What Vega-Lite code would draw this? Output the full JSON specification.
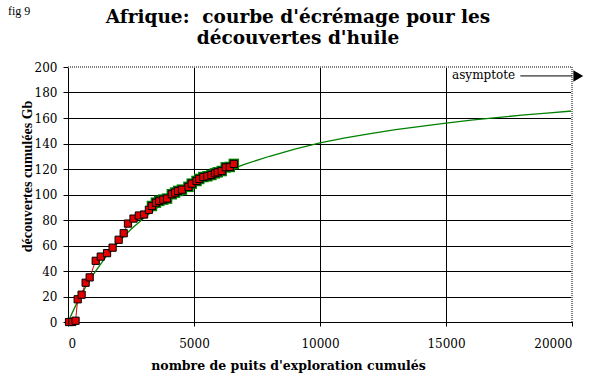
{
  "$schema": "https://vega.github.io/schema/vega-lite/v6.json",
  "width": 504,
  "height": 255,
  "autosize": {"type": "none"},
  "padding": {"left": 68, "top": 67, "right": 24, "bottom": 59},
  "background": "white",
  "title": {
    "text": ["Afrique:\u00a0 courbe d'écrémage pour les", "découvertes d'huile"],
    "font": "DejaVu Serif",
    "fontSize": 18.5,
    "fontWeight": "bold",
    "color": "black",
    "lineHeight": 21,
    "offset": -43,
    "dx": -22,
    "anchor": "middle",
    "frame": "group"
  },
  "config": {
    "view": {"stroke": null},
    "axis": {
      "labelFont": "DejaVu Serif",
      "labelFontSize": 12,
      "labelColor": "black",
      "labelOverlap": false,
      "titleFont": "DejaVu Serif",
      "titleFontWeight": "bold",
      "titleColor": "black",
      "domainColor": "black",
      "tickColor": "black",
      "gridColor": "black",
      "gridOpacity": 1,
      "gridWidth": 1
    }
  },
  "datasets": {
    "obs": [
      {"puits": 40, "gb": 0},
      {"puits": 170, "gb": 0},
      {"puits": 300, "gb": 1},
      {"puits": 385, "gb": 17.8},
      {"puits": 540, "gb": 21.4},
      {"puits": 700, "gb": 30.8},
      {"puits": 860, "gb": 35},
      {"puits": 1100, "gb": 48},
      {"puits": 1300, "gb": 51.3},
      {"puits": 1550, "gb": 54},
      {"puits": 1770, "gb": 58.3},
      {"puits": 2010, "gb": 64.5},
      {"puits": 2210, "gb": 69.6},
      {"puits": 2380, "gb": 77.2},
      {"puits": 2600, "gb": 81.1},
      {"puits": 2810, "gb": 83.5},
      {"puits": 3020, "gb": 84.3},
      {"puits": 3210, "gb": 88},
      {"puits": 3330, "gb": 91},
      {"puits": 3490, "gb": 93.6},
      {"puits": 3620, "gb": 95},
      {"puits": 3780, "gb": 96},
      {"puits": 3930, "gb": 96.8},
      {"puits": 4120, "gb": 100.2},
      {"puits": 4250, "gb": 101.5},
      {"puits": 4370, "gb": 102.8},
      {"puits": 4520, "gb": 103.8},
      {"puits": 4780, "gb": 106},
      {"puits": 4910, "gb": 108.5},
      {"puits": 5100, "gb": 110.6},
      {"puits": 5210, "gb": 112.2},
      {"puits": 5370, "gb": 113.7},
      {"puits": 5530, "gb": 114.3},
      {"puits": 5690, "gb": 115.3},
      {"puits": 5830, "gb": 116.6},
      {"puits": 5940, "gb": 117.4},
      {"puits": 6100, "gb": 118.4},
      {"puits": 6260, "gb": 121.3},
      {"puits": 6420, "gb": 121.6},
      {"puits": 6580, "gb": 124}
    ],
    "fit": [
      {"puits": 0, "gb": 0},
      {"puits": 250, "gb": 10.7},
      {"puits": 500, "gb": 20.4},
      {"puits": 750, "gb": 29.2},
      {"puits": 1000, "gb": 37.2},
      {"puits": 1500, "gb": 51},
      {"puits": 2000, "gb": 62.7},
      {"puits": 2500, "gb": 72.7},
      {"puits": 3000, "gb": 81.3},
      {"puits": 3500, "gb": 89},
      {"puits": 4000, "gb": 95.7},
      {"puits": 4500, "gb": 101.7},
      {"puits": 5000, "gb": 107},
      {"puits": 6000, "gb": 116.2},
      {"puits": 7000, "gb": 123.7},
      {"puits": 8000, "gb": 130},
      {"puits": 9000, "gb": 135.6},
      {"puits": 10000, "gb": 140.5},
      {"puits": 11000, "gb": 144.4},
      {"puits": 12000, "gb": 147.8},
      {"puits": 13000, "gb": 150.8},
      {"puits": 14000, "gb": 153.5},
      {"puits": 15000, "gb": 156},
      {"puits": 16000, "gb": 158.3},
      {"puits": 17000, "gb": 160.3},
      {"puits": 18000, "gb": 162.2},
      {"puits": 19000, "gb": 163.9},
      {"puits": 20000, "gb": 165.5}
    ],
    "border": [
      {"x1": 0, "x2": 20000, "y1": 200, "y2": 200},
      {"x1": 20000, "x2": 20000, "y1": 0, "y2": 200}
    ],
    "annot": [
      {"label": "asymptote", "x": 15240, "x2": 20000, "xs": 17950, "xa": 20250, "y": 193}
    ],
    "fig": [
      {"label": "fig 9", "x": -2380, "y": 241}
    ]
  },
  "layer": [
    {
      "data": {"name": "fit"},
      "mark": {"type": "line", "color": "#008000", "strokeWidth": 1.3},
      "encoding": {
        "x": {
          "field": "puits", "type": "quantitative",
          "scale": {"domain": [0, 20000], "nice": false},
          "axis": {
            "values": [0, 5000, 10000, 15000, 20000],
            "tickCount": 5,
            "format": "d",
            "title": "nombre de puits d'exploration cumulés",
            "titleFontSize": 12.5,
            "titleX": 220,
            "titleY": 47,
            "titleAlign": "center",
            "titleBaseline": "alphabetic",
            "tickSize": 4,
            "labelPadding": 12,
            "grid": true
          }
        },
        "y": {
          "field": "gb", "type": "quantitative",
          "scale": {"domain": [0, 200], "nice": false},
          "axis": {
            "values": [0, 20, 40, 60, 80, 100, 120, 140, 160, 180, 200],
            "tickCount": 11,
            "labelOverlap": false,
            "title": "découvertes cumulées Gb",
            "titleFont": "Liberation Serif",
            "titleFontSize": 14,
            "titleAngle": -90,
            "titleX": -41,
            "titleY": 109,
            "titleAlign": "center",
            "titleBaseline": "middle",
            "tickSize": 5,
            "labelPadding": 6,
            "grid": true
          }
        }
      }
    },
    {
      "data": {"name": "border"},
      "mark": {"type": "rule", "color": "white", "strokeWidth": 2, "clip": false},
      "encoding": {
        "x": {"field": "x1", "type": "quantitative"},
        "x2": {"field": "x2"},
        "y": {"field": "y1", "type": "quantitative"},
        "y2": {"field": "y2"}
      }
    },
    {
      "data": {"name": "border"},
      "mark": {"type": "rule", "color": "black", "strokeWidth": 1, "strokeDash": [1, 1], "clip": false},
      "encoding": {
        "x": {"field": "x1", "type": "quantitative"},
        "x2": {"field": "x2"},
        "y": {"field": "y1", "type": "quantitative"},
        "y2": {"field": "y2"}
      }
    },
    {
      "data": {"name": "obs"},
      "mark": {"type": "line", "color": "#e00000", "strokeWidth": 1},
      "encoding": {
        "x": {"field": "puits", "type": "quantitative"},
        "y": {"field": "gb", "type": "quantitative"}
      }
    },
    {
      "data": {"name": "obs"},
      "transform": [{"filter": "datum.puits >= 3300"}],
      "mark": {"type": "point", "shape": "square", "filled": true, "color": "#008000", "size": 110, "opacity": 1},
      "encoding": {
        "x": {"field": "puits", "type": "quantitative"},
        "y": {"field": "gb", "type": "quantitative"}
      }
    },
    {
      "data": {"name": "obs"},
      "mark": {"type": "point", "shape": "square", "filled": true, "fill": "#e00000", "stroke": "black", "strokeWidth": 1, "size": 52, "opacity": 1, "fillOpacity": 1},
      "encoding": {
        "x": {"field": "puits", "type": "quantitative"},
        "y": {"field": "gb", "type": "quantitative"}
      }
    },
    {
      "data": {"name": "annot"},
      "mark": {"type": "text", "font": "DejaVu Serif", "fontSize": 12, "align": "left", "baseline": "middle", "color": "black", "dy": -1},
      "encoding": {
        "x": {"field": "x", "type": "quantitative"},
        "y": {"field": "y", "type": "quantitative"},
        "text": {"field": "label"}
      }
    },
    {
      "data": {"name": "annot"},
      "mark": {"type": "rule", "color": "black", "strokeWidth": 1, "clip": false},
      "encoding": {
        "x": {"field": "xs", "type": "quantitative"},
        "x2": {"field": "x2"},
        "y": {"field": "y", "type": "quantitative"}
      }
    },
    {
      "data": {"name": "annot"},
      "mark": {"type": "point", "shape": "triangle-right", "filled": true, "color": "black", "size": 130, "opacity": 1, "clip": false},
      "encoding": {
        "x": {"field": "xa", "type": "quantitative"},
        "y": {"field": "y", "type": "quantitative"}
      }
    },
    {
      "data": {"name": "fig"},
      "mark": {"type": "text", "font": "Liberation Serif", "fontSize": 12, "align": "left", "baseline": "alphabetic", "color": "black", "clip": false},
      "encoding": {
        "x": {"field": "x", "type": "quantitative"},
        "y": {"field": "y", "type": "quantitative"},
        "text": {"field": "label"}
      }
    }
  ]
}
